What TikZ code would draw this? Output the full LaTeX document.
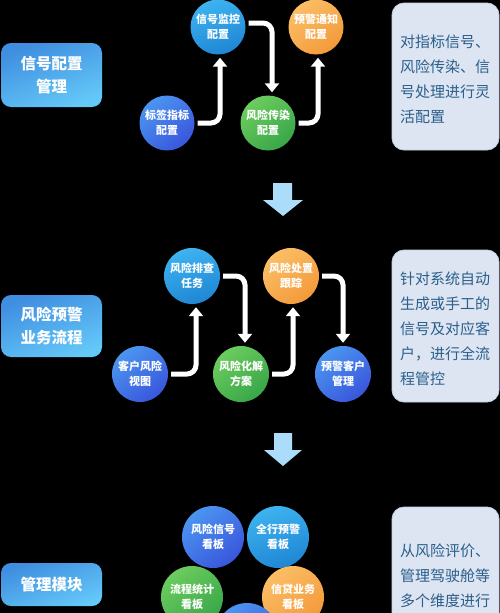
\documentclass[tikz,border=0pt]{standalone}
\usepackage{fontspec}
\setmainfont{Noto Sans CJK SC}
\usetikzlibrary{arrows.meta}
\definecolor{bgblack}{HTML}{000000}
\definecolor{rfill}{HTML}{DCE5F1}
\definecolor{rline}{HTML}{C3D0E2}
\definecolor{rtxt}{HTML}{2C5F8C}
\definecolor{darrow}{HTML}{ABDDFA}
\definecolor{blueA}{HTML}{4B95F0}
\definecolor{blueB}{HTML}{3956DC}
\definecolor{cyanA}{HTML}{3DB3F0}
\definecolor{cyanB}{HTML}{1F86D4}
\definecolor{greenA}{HTML}{6CCC5E}
\definecolor{greenB}{HTML}{38A648}
\definecolor{orangeA}{HTML}{FBBE66}
\definecolor{orangeB}{HTML}{F39A3A}
\definecolor{lboxA}{HTML}{3F8EE0}
\definecolor{lboxB}{HTML}{64C8F8}
\begin{document}
\begin{tikzpicture}[x=1pt,y=-1pt,
  circ/.style={circle, inner sep=0pt, text=white, align=center,
    font=\fontsize{11}{15}\selectfont\bfseries},
  cblue/.style={circ, top color=blueA, bottom color=blueB, shading angle=40},
  ccyan/.style={circ, top color=cyanA, bottom color=cyanB, shading angle=20},
  cgreen/.style={circ, top color=greenA, bottom color=greenB, shading angle=40},
  corange/.style={circ, top color=orangeA, bottom color=orangeB, shading angle=40},
  lbox/.style={rounded corners=10pt, inner sep=0pt, text=white, align=center,
    top color=lboxA, bottom color=lboxB, shading angle=20,
    font=\fontsize{15.5}{23}\selectfont\bfseries, minimum width=101pt},
  rbox/.style={rounded corners=12pt, fill=rfill, draw=rline, line width=0.8pt,
    minimum width=107pt, inner sep=0pt},
  rtext/.style={text=rtxt, align=left, inner sep=0pt, anchor=west,
    font=\fontsize{15}{25}\selectfont},
  flow/.style={draw=white, line width=5pt, rounded corners=9pt,
    -{Triangle[width=14pt,length=9pt]}, shorten <=3pt, shorten >=3pt},
  downarr/.style={fill=darrow}
]
\useasboundingbox (0,0) rectangle (500,613);
\fill[bgblack] (0,0) rectangle (500,613);

% left boxes
\node[lbox, minimum height=64pt] (l1) at (51.5,75) {信号配置\\管理};
\node[lbox, minimum height=62pt] (l2) at (51.5,326) {风险预警\\业务流程};
\node[lbox, minimum height=43pt] (l3) at (51.5,584.5) {管理模块};

% right boxes
\node[rbox, minimum height=147pt] (r1) at (445.5,76.5) {};
\node[rtext] (r1t) at (400,79.5) {对指标信号、\\风险传染、信\\号处理进行灵\\活配置};
\node[rbox, minimum height=152pt] (r2) at (445.5,326) {};
\node[rtext] (r2t) at (400,329) {针对系统自动\\生成或手工的\\信号及对应客\\户，进行全流\\程管控};
\node[rbox, minimum height=150pt] (r3) at (445.5,582) {};
\node[rtext] (r3t) at (400,576) {从风险评价、\\管理驾驶舱等\\多个维度进行};

% section 1
\node[cblue, minimum size=55pt] (n11) at (167,123) {标签指标\\配置};
\node[ccyan, minimum size=55pt] (n12) at (218,27) {信号监控\\配置};
\node[cgreen, minimum size=55pt] (n13) at (268,123) {风险传染\\配置};
\node[corange, minimum size=55pt] (n14) at (316,27) {预警通知\\配置};
\draw[flow] (n11.east) -| ([xshift=2pt]n12.south);
\draw[flow] ([yshift=4pt]n12.east) -| ([xshift=4pt]n13.north);
\draw[flow] (n13.east) -| ([xshift=2pt]n14.south);

% down arrow 1
\fill[downarr] (273,183) -- (292,183) -- (292,200) -- (303,200) -- (283,216)
  -- (263,200) -- (273,200) -- cycle;

% section 2
\node[cblue, minimum size=56pt] (n21) at (140,374) {客户风险\\视图};
\node[ccyan, minimum size=56pt] (n22) at (192,276) {风险排查\\任务};
\node[cgreen, minimum size=56pt] (n23) at (241,374) {风险化解\\方案};
\node[corange, minimum size=56pt] (n24) at (291,276) {风险处置\\跟踪};
\node[cblue, minimum size=56pt] (n25) at (343,374) {预警客户\\管理};
\draw[flow] (n21.east) -| ([xshift=4pt]n22.south);
\draw[flow] (n22.east) -| ([xshift=4pt]n23.north);
\draw[flow] (n23.east) -| ([xshift=2pt]n24.south);
\draw[flow] (n24.east) -| (n25.north);

% down arrow 2
\fill[downarr] (274,433) -- (292,433) -- (292,450) -- (302,450) -- (283,466)
  -- (264,450) -- (274,450) -- cycle;

% section 3
\node[cblue, minimum size=62pt] (n31) at (213,537) {风险信号\\看板};
\node[ccyan, minimum size=62pt] (n32) at (278,537) {全行预警\\看板};
\node[cgreen, minimum size=62pt] (n33) at (192,597) {流程统计\\看板};
\node[corange, minimum size=62pt] (n34) at (293,597) {信贷业务\\看板};
\node[cblue, minimum size=62pt] (n35) at (247,634) {};
\end{tikzpicture}
\end{document}
